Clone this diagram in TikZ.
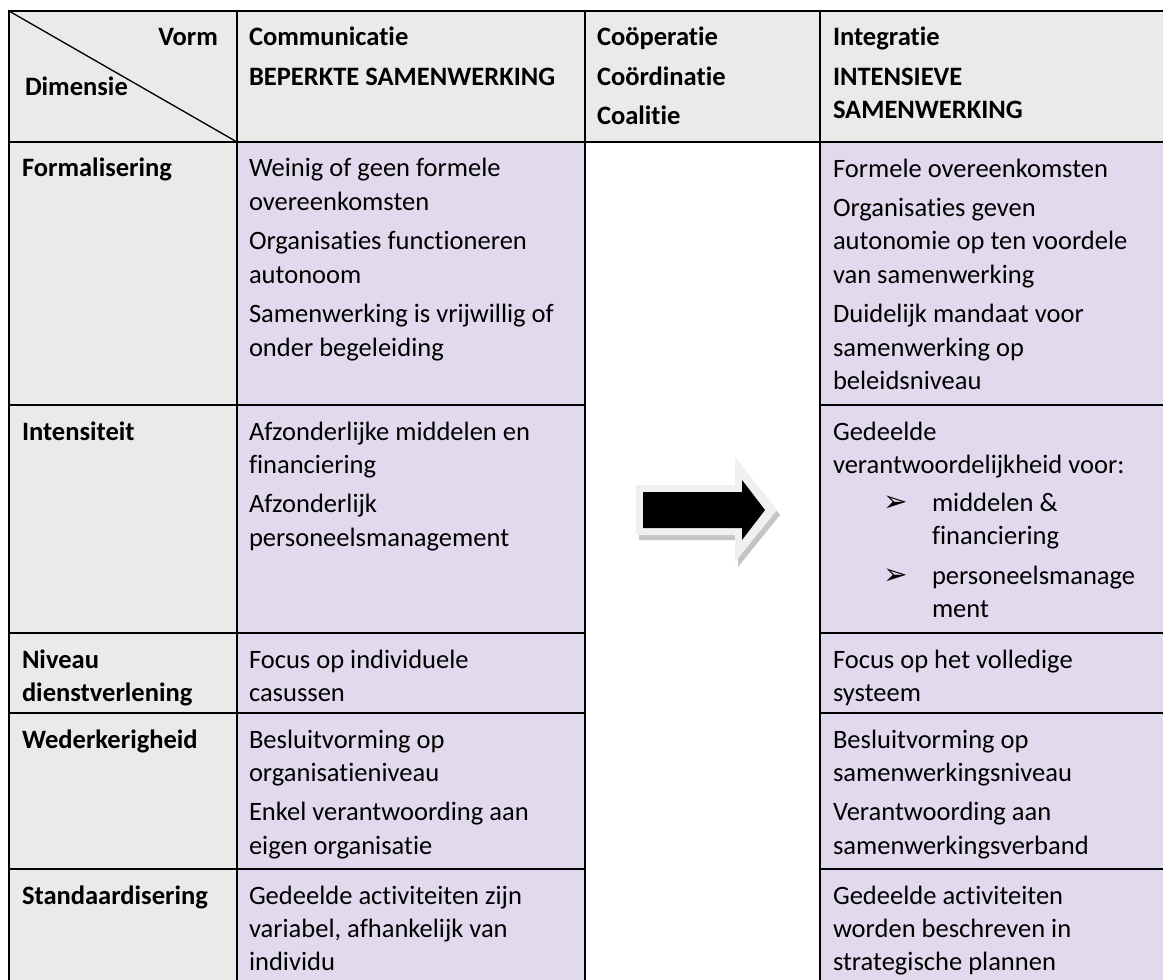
\documentclass[tikz,border=0pt]{standalone}
\usepackage{fontspec}
\setmainfont{Carlito}[Ligatures={NoCommon,NoRare,NoContextual}]
\newfontfamily\dejavu{DejaVu Sans}
\definecolor{hdr}{RGB}{234,234,234}
\definecolor{lav}{RGB}{225,218,238}
\definecolor{arrowlight}{RGB}{240,240,240}
\definecolor{arrowshadow}{RGB}{196,196,196}
\newcommand{\fst}{\rule{0pt}{18pt}}
\begin{document}
\begin{tikzpicture}[x=0.75pt,y=-0.75pt,
  txt/.style={anchor=north west, inner sep=0pt, outer sep=0pt, align=left, font=\fontsize{19.9pt}{25.1pt}\selectfont},
  hd/.style={txt, font=\fontsize{19.9pt}{25.1pt}\selectfont\bfseries},
  bul/.style={anchor=base west, inner sep=0pt, font=\dejavu\fontsize{22pt}{24pt}\selectfont},
  grid/.style={line width=1.3pt, draw=black, line cap=rect}]
\useasboundingbox (0,0) rectangle (1163,980);
\clip (0,0) rectangle (1163,980);
\fill[white] (0,0) rectangle (1163,980);
% backgrounds
\fill[hdr] (9,11) rectangle (1170,142);
\fill[hdr] (9,142) rectangle (237,990);
\fill[lav] (237,142) rectangle (585,990);
\fill[lav] (820,142) rectangle (1170,990);
% grid lines
\draw[grid] (9,11) -- (1170,11);
\draw[grid] (9,142) -- (1170,142);
\draw[grid] (9,11) -- (9,990);
\draw[grid] (237,11) -- (237,990);
\draw[grid] (585,11) -- (585,990);
\draw[grid] (820,11) -- (820,990);
\foreach \yy in {405,633,713,869}{
  \draw[grid] (9,\yy) -- (585,\yy);
  \draw[grid] (820,\yy) -- (1170,\yy);
}
\draw[line width=1pt] (9,11) -- (237,142);
% header
\node[hd, anchor=north east] (vorm) at (218,22) {\fst Vorm};
\node[hd] (dim) at (25,72) {\fst Dimensie};
\node[hd] (h2) at (249,22) {\fst Communicatie\\[4.5pt] BEPERKTE SAMENWERKING};
\node[hd] (h3) at (597,22) {\fst Coöperatie\\[4.5pt] Coördinatie\\[4.5pt] Coalitie};
\node[hd] (h4) at (833,22) {\fst Integratie\\[4.5pt] INTENSIEVE\\ SAMENWERKING};
% row 1
\node[hd] (r1a) at (22,153) {\fst Formalisering};
\node[txt] (r1b) at (249,153) {\fst Weinig of geen formele\\ overeenkomsten\\[4.5pt] Organisaties functioneren\\ autonoom\\[4.5pt] Samenwerking is vrijwillig of\\ onder begeleiding};
\node[txt] (r1d) at (833,153) {\fst Formele overeenkomsten\\[4.5pt] Organisaties geven\\ autonomie op ten voordele\\ van samenwerking\\[4.5pt] Duidelijk mandaat voor\\ samenwerking op\\ beleidsniveau};
% row 2
\node[hd] (r2a) at (22,416) {\fst Intensiteit};
\node[txt] (r2b) at (249,416) {\fst Afzonderlijke middelen en\\ financiering\\[4.5pt] Afzonderlijk\\ personeelsmanagement};
\node[txt] (r2d) at (833,416) {\fst Gedeelde\\ verantwoordelijkheid voor:};
\node[bul] (bul1) at (883,511) {➢};
\node[txt] (r2e) at (932,487) {\fst middelen \&\\ financiering};
\node[bul] (bul2) at (883,584) {➢};
\node[txt] (r2f) at (932,560) {\fst personeelsmanage\\ ment};
% row 3
\node[hd] (r3a) at (22,644) {\fst Niveau\\ dienstverlening};
\node[txt] (r3b) at (249,644) {\fst Focus op individuele\\ casussen};
\node[txt] (r3d) at (833,644) {\fst Focus op het volledige\\ systeem};
% row 4
\node[hd] (r4a) at (22,724) {\fst Wederkerigheid};
\node[txt] (r4b) at (249,724) {\fst Besluitvorming op\\ organisatieniveau\\[4.5pt] Enkel verantwoording aan\\ eigen organisatie};
\node[txt] (r4d) at (833,724) {\fst Besluitvorming op\\ samenwerkingsniveau\\[4.5pt] Verantwoording aan\\ samenwerkingsverband};
% row 5
\node[hd] (r5a) at (22,880) {\fst Standaardisering};
\node[txt] (r5b) at (249,880) {\fst Gedeelde activiteiten zijn\\ variabel, afhankelijk van\\ individu};
\node[txt] (r5d) at (833,880) {\fst Gedeelde activiteiten\\ worden beschreven in\\ strategische plannen};
% block arrow
\fill[arrowshadow] (639,490) -- (738,490) -- (738,462) -- (780,515) -- (738,567) -- (738,540) -- (639,540) -- cycle;
\fill[arrowlight] (636,485) -- (735,485) -- (735,457) -- (777,510) -- (735,562) -- (735,535) -- (636,535) -- cycle;
\fill[black] (643,492) -- (742,492) -- (742,480) -- (765,510) -- (742,540) -- (742,528) -- (643,528) -- cycle;
\end{tikzpicture}
\end{document}
